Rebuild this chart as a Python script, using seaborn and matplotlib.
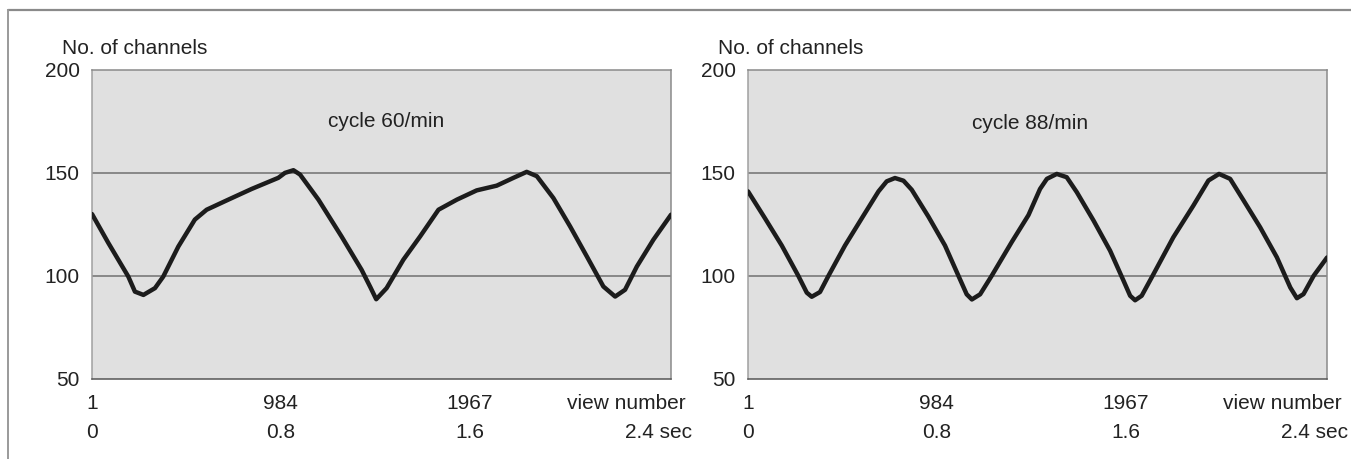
import pandas as pd
import matplotlib
matplotlib.use("Agg")
import matplotlib.pyplot as plt
from matplotlib.lines import Line2D
from matplotlib.transforms import blended_transform_factory
import seaborn as sns

# time in seconds, number of channels
left_t = [0.0, 0.069, 0.154, 0.182, 0.218, 0.267, 0.302, 0.366, 0.436, 0.486,
          0.578, 0.677, 0.790, 0.818, 0.854, 0.882, 0.960, 1.058, 1.143, 1.180,
          1.205, 1.249, 1.320, 1.391, 1.469, 1.547, 1.631, 1.716, 1.787, 1.843,
          1.886, 1.956, 2.027, 2.098, 2.168, 2.218, 2.260, 2.310, 2.380, 2.455]
left_v = [130, 116, 99.6, 92.3, 90.7, 94, 99.6, 114.2, 127.3, 132.1,
          137, 142.2, 147.6, 150, 151.3, 149.2, 137, 119.1, 102.9, 94.5,
          88.6, 94, 107.8, 119.1, 132.1, 137, 141.5, 143.8, 147.6, 150.5,
          148.4, 137.8, 124, 109.4, 94.8, 89.9, 93.2, 104.5, 117.5, 129.7]

right_t = [0.0, 0.072, 0.143, 0.213, 0.249, 0.270, 0.305, 0.341, 0.411, 0.482,
           0.553, 0.588, 0.623, 0.659, 0.694, 0.765, 0.835, 0.892, 0.927, 0.949,
           0.984, 1.033, 1.118, 1.189, 1.238, 1.267, 1.309, 1.351, 1.394, 1.465,
           1.535, 1.592, 1.620, 1.641, 1.669, 1.719, 1.803, 1.888, 1.952, 1.997,
           2.044, 2.101, 2.171, 2.242, 2.299, 2.327, 2.355, 2.398, 2.455]
right_v = [141, 127.9, 114.7, 100, 91.8, 89.8, 92.1, 100, 114.7, 127.9,
           141, 145.9, 147.5, 146.2, 141.8, 128.7, 114.7, 100, 91, 88.5,
           91, 100, 116.4, 129.5, 142.2, 147.1, 149.5, 147.9, 140.6, 126.8,
           112.2, 97.6, 90.3, 88.1, 90.3, 100.8, 118.7, 134.1, 146.3, 149.5,
           147.1, 136.6, 123.6, 109, 94.3, 89.1, 91.1, 100, 108.9]

titles = ["cycle 60/min", "cycle 88/min"]
sec_ticks = [0, 0.4, 0.8, 1.2, 1.6, 2.0, 2.4]
sec_labels = ["0", "", "0.8", "", "1.6", "", "2.4 sec"]
view_pos = [0, 0.8, 1.6]
view_labels = ["1", "984", "1967"]
y_ticks = [50, 100, 150, 200]

sns.set_theme(style="white")
plt.rcParams["font.family"] = ["Liberation Sans", "DejaVu Sans"]

fig = plt.figure(figsize=(13.51, 4.59), dpi=100)
ax1 = fig.add_axes([0.0681, 0.175, 0.4286, 0.6725])
ax2 = fig.add_axes([0.5537, 0.175, 0.4286, 0.6725])

# scan frame lines
fig.add_artist(Line2D([8 / 1351, 1], [1 - 10 / 459, 1 - 10 / 459], color="#8a8a8a", lw=1.6))
fig.add_artist(Line2D([8 / 1351, 8 / 1351], [0, 1 - 10 / 459], color="#9a9a9a", lw=1.4))

panels = [(ax1, left_t, left_v, titles[0], 0.508, 0.832),
          (ax2, right_t, right_v, titles[1], 0.487, 0.826)]

fs = 15
for ax, t, v, title, tx, ty in panels:
    df = pd.DataFrame({"t": t, "v": v})
    ax.set_facecolor("#e0e0e0")
    for g in [100, 150]:
        ax.axhline(g, color="#707070", lw=1.1, zorder=1)
    sns.lineplot(data=df, x="t", y="v", ax=ax, color="#1c1c1c", lw=3.2,
                 estimator=None, sort=False, zorder=3,
                 solid_joinstyle="round", solid_capstyle="round")
    ax.set_xlim(0, 2.455)
    ax.set_ylim(50, 200)
    ax.set_xlabel("")
    ax.set_ylabel("")
    ax.set_yticks(y_ticks)
    ax.set_yticklabels([str(y) for y in y_ticks], fontsize=fs, color="#222222")
    ax.set_xticks(sec_ticks)
    ax.set_xticklabels(sec_labels, fontsize=fs, color="#222222")
    ax.tick_params(axis="y", length=0, pad=9)
    ax.tick_params(axis="x", direction="in", length=3.5, width=1, color="#555555", pad=32)
    for side, col in [("top", "#8a8a8a"), ("right", "#8a8a8a"), ("left", "#a0a0a0"), ("bottom", "#555555")]:
        ax.spines[side].set_visible(True)
        ax.spines[side].set_color(col)
        ax.spines[side].set_linewidth(1.1)

    trans = blended_transform_factory(ax.transData, ax.transAxes)
    for p, lab in zip(view_pos, view_labels):
        ax.text(p, -0.08, lab, transform=trans, ha="center", va="center",
                fontsize=fs, color="#222222")
    ax.text(2.515, -0.08, "view number", transform=trans, ha="right", va="center",
            fontsize=fs, color="#222222")
    ax.text(-0.052, 1.071, "No. of channels", transform=ax.transAxes, ha="left",
            va="center", fontsize=fs, color="#222222")
    ax.text(tx, ty, title, transform=ax.transAxes, ha="center", va="center",
            fontsize=fs, color="#222222")

fig.savefig("out.png", dpi=100)
